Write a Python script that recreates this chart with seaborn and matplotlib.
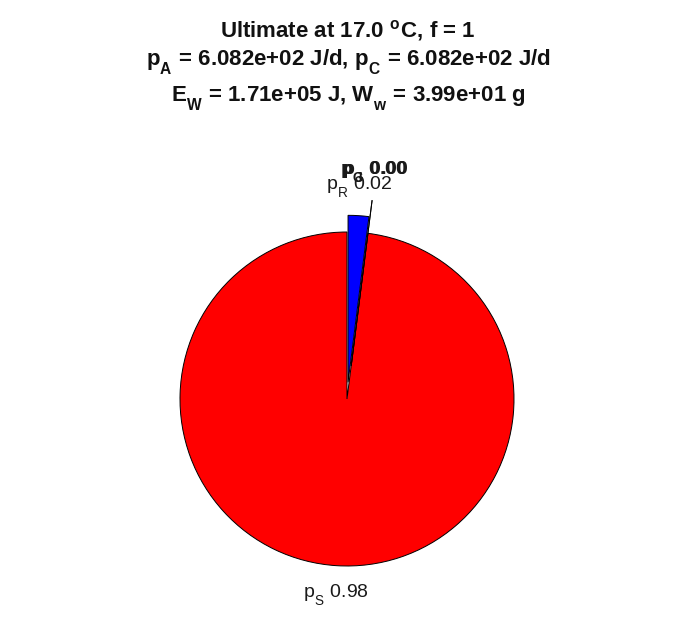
import numpy as np
import matplotlib
matplotlib.use("Agg")
import matplotlib.pyplot as plt
import matplotlib._mathtext as mtext
import seaborn as sns

# data
flux_names = ["S", "G", "J", "R"]
flux_fracs = [0.98, 0.00, 0.00, 0.02]
flux_colors = ["#ff0000", "#00ff00", "#ff00ff", "#0000ff"]
explode = [0.0, 0.2, 0.2, 0.1]

T_C = 17.0
f_food = 1
p_A = 6.082e+02
p_C = 6.082e+02
E_W = 1.71e+05
W_w = 3.99e+01

sns.set_theme(style="white")
plt.rcParams["font.family"] = ["Liberation Sans", "DejaVu Sans"]
plt.rcParams["mathtext.fontset"] = "custom"
plt.rcParams["mathtext.rm"] = "Liberation Sans"
plt.rcParams["mathtext.it"] = "Liberation Sans"
plt.rcParams["mathtext.bf"] = "Liberation Sans:bold"

# matlab-like subscripts: dropped lower, a bit more space after
mtext.FontConstantsBase.sub1 = 0.8
mtext.FontConstantsBase.script_space = 0.12

W, H = 696, 618
fig = plt.figure(figsize=(W / 100, H / 100), dpi=100)
ax = fig.add_axes([0, 0, 1, 1])

# pie centre / radius in pixels
cx, cy, rad = 347, 399, 167

labels = []
for n, v in zip(flux_names, flux_fracs):
    if v == 0:
        labels.append(r"$\mathbf{p}_\mathbf{%s}$ %.2f" % (n, v))
    else:
        labels.append(r"$\mathrm{p}_\mathrm{%s}$ %.2f" % (n, v))

wedges, texts = ax.pie(flux_fracs, labels=labels, colors=flux_colors,
                       explode=explode, startangle=90, counterclock=True,
                       labeldistance=1.1, normalize=False,
                       wedgeprops=dict(edgecolor="black", linewidth=0.7),
                       textprops=dict(fontsize=14, color="#1a1a1a"))

for t, v in zip(texts, flux_fracs):
    x, y = t.get_position()
    t.set_ha("center")
    t.set_va("bottom" if y > 0 else "top")
    if v == 0:
        t.set_fontweight("bold")

ax.set_xlim(-cx / rad, (W - cx) / rad)
ax.set_ylim(-(H - cy) / rad, cy / rad)
ax.set_aspect("auto")
ax.axis("off")

kw = dict(ha="center", va="baseline", fontsize=16, fontweight="bold", color="#111111")
fig.text(348 / W, 1 - 37 / H,
         r"Ultimate at %.1f ${}^\mathbf{o}$C, f = %d" % (T_C, f_food), **kw)
fig.text(348 / W, 1 - 65 / H,
         r"$\mathbf{p}_\mathbf{A}$ = %.3e J/d, $\mathbf{p}_\mathbf{C}$ = %.3e J/d" % (p_A, p_C), **kw)
fig.text(348 / W, 1 - 101 / H,
         r"$\mathbf{E}_\mathbf{W}$ = %.2e J, $\mathbf{W}_\mathbf{w}$ = %.2e g" % (E_W, W_w), **kw)

fig.savefig("out.png", dpi=100)
